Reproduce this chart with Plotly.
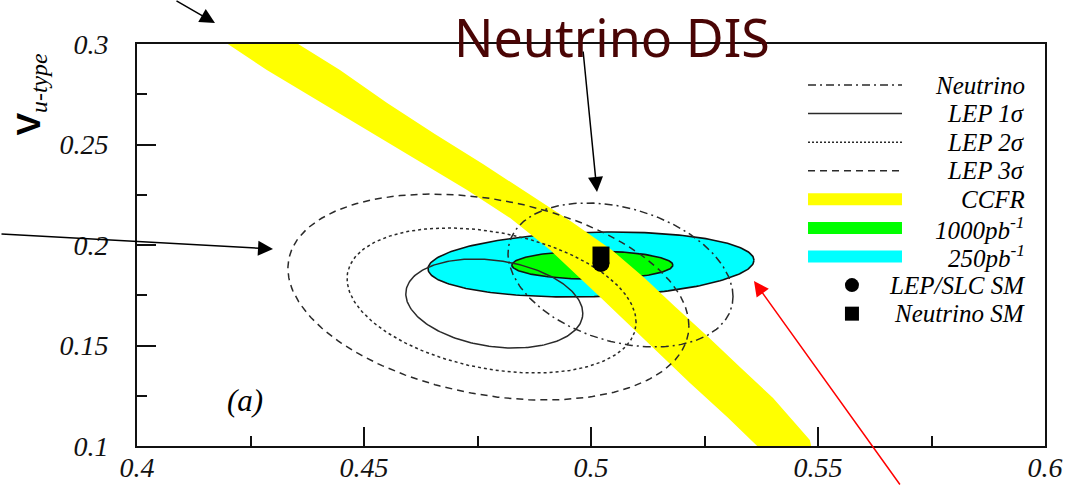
import numpy as np
import plotly.graph_objects as go

# ---- axis ticks -------------------------------------------------------
x_ticks = [0.4, 0.45, 0.5, 0.55, 0.6]
x_tick_labels = ["0.4", "0.45", "0.5", "0.55", "0.6"]
x_minor_ticks = [0.425, 0.475, 0.525, 0.575]
y_ticks = [0.1, 0.15, 0.2, 0.25, 0.3]
y_tick_labels = ["0.1", "0.15", "0.2", "0.25", "0.3"]
y_minor_ticks = [0.125, 0.175, 0.225, 0.275]

# ---- CCFR band: upper/right and lower/left edges ----------------------
ccfr_hi_x = [0.4355, 0.4447, 0.4551, 0.4656, 0.4762, 0.4866, 0.4958,
             0.5046, 0.5118, 0.5186, 0.5256, 0.5328, 0.5401, 0.5482, 0.5485]
ccfr_hi_y = [0.3000, 0.2871, 0.2706, 0.2552, 0.2403, 0.2249, 0.2114,
             0.1975, 0.1836, 0.1691, 0.1547, 0.1393, 0.1239, 0.1030, 0.1000]
ccfr_lo_x = [0.4200, 0.4286, 0.4396, 0.4507, 0.4617, 0.4727, 0.4822,
             0.4910, 0.5020, 0.5108, 0.5218, 0.5300, 0.5366]
ccfr_lo_y = [0.3000, 0.2871, 0.2721, 0.2572, 0.2423, 0.2274, 0.2134,
             0.1975, 0.1741, 0.1552, 0.1313, 0.1144, 0.1000]

# ---- contour ellipses: centre, half-extent in x / y, correlation -----
ell_names = ["250pb-1", "1000pb-1", "LEP 3s", "LEP 2s", "LEP 1s", "Neutrino"]
ell_cx = [0.5000, 0.5003, 0.4774, 0.4781, 0.4787, 0.5065]
ell_cy = [0.1903, 0.1900, 0.1741, 0.1724, 0.1709, 0.1851]
ell_sx = [0.0359, 0.01773, 0.04416, 0.03183, 0.01949, 0.02478]
ell_sy = [0.01617, 0.00697, 0.05124, 0.03607, 0.02214, 0.03582]
ell_rho = [0.13, 0.0, -0.28, -0.30, -0.22, -0.30]

# ---- Standard Model points -------------------------------------------
sm_lep_x, sm_lep_y = [0.5022], [0.1908]
sm_nu_x, sm_nu_y = [0.5022], [0.1950]

# ---- legend entries ----------------------------------------------------
legend_labels = ["Neutrino", "LEP 1σ", "LEP 2σ", "LEP 3σ", "CCFR",
                 "1000pb<sup>-1</sup>", "250pb<sup>-1</sup>",
                 "LEP/SLC SM", "Neutrino SM"]

LINE = "#2a2a2a"
DASHES = {
    "Neutrino": "8px,4px,2px,4px",
    "LEP 1s": "solid",
    "LEP 2s": "3px,3px",
    "LEP 3s": "7px,5px",
}
FILLS = {"250pb-1": "#00ffff", "1000pb-1": "#00ff00"}


def ellipse(cx, cy, sx, sy, rho, n=240):
    t = np.linspace(0, 2 * np.pi, n)
    delta = np.arccos(rho)
    return cx + sx * np.cos(t), cy + sy * np.cos(t - delta)


fig = go.Figure()

# filled luminosity contours
for i in range(2):
    ex, ey = ellipse(ell_cx[i], ell_cy[i], ell_sx[i], ell_sy[i], ell_rho[i])
    fig.add_trace(go.Scatter(x=ex, y=ey, mode="lines", fill="toself",
                             fillcolor=FILLS[ell_names[i]],
                             line=dict(color="#111", width=1.6),
                             hoverinfo="skip"))

# CCFR band
band_x = ccfr_hi_x + ccfr_lo_x[::-1]
band_y = ccfr_hi_y + ccfr_lo_y[::-1]
fig.add_trace(go.Scatter(x=band_x, y=band_y, mode="lines", fill="toself",
                         fillcolor="#ffff00", line=dict(width=0),
                         hoverinfo="skip"))

# LEP and neutrino contours
for i in range(2, 6):
    ex, ey = ellipse(ell_cx[i], ell_cy[i], ell_sx[i], ell_sy[i], ell_rho[i])
    fig.add_trace(go.Scatter(x=ex, y=ey, mode="lines",
                             line=dict(color=LINE, width=1.5,
                                       dash=DASHES[ell_names[i]]),
                             hoverinfo="skip"))

# SM points
fig.add_trace(go.Scatter(x=sm_lep_x, y=sm_lep_y, mode="markers",
                         marker=dict(symbol="circle", size=17, color="black")))
fig.add_trace(go.Scatter(x=sm_nu_x, y=sm_nu_y, mode="markers",
                         marker=dict(symbol="square", size=17, color="black")))

# ---- hand-built legend in paper coordinates ---------------------------
leg_x0, leg_x1, leg_text_x, leg_mark_x = 0.739, 0.8425, 0.9802, 0.7874
leg_top, leg_step = 0.898, 0.0711
sample_styles = [
    dict(kind="line", dash=DASHES["Neutrino"]),
    dict(kind="line", dash="solid"),
    dict(kind="line", dash="2px,2px"),
    dict(kind="line", dash=DASHES["LEP 3s"]),
    dict(kind="band", color="#ffff00"),
    dict(kind="band", color="#00ff00"),
    dict(kind="band", color="#00ffff"),
    dict(kind="circle"),
    dict(kind="square"),
]
shapes = []
annotations = []
for k, (label, st) in enumerate(zip(legend_labels, sample_styles)):
    yy = leg_top - k * leg_step
    if st["kind"] == "line":
        shapes.append(dict(type="line", xref="paper", yref="paper",
                           x0=leg_x0, x1=leg_x1, y0=yy, y1=yy,
                           line=dict(color=LINE, width=1.5, dash=st["dash"])))
    elif st["kind"] == "band":
        shapes.append(dict(type="line", xref="paper", yref="paper",
                           x0=leg_x0, x1=leg_x1, y0=yy, y1=yy,
                           line=dict(color=st["color"], width=12)))
    else:
        shapes.append(dict(type="circle" if st["kind"] == "circle" else "rect",
                           xref="paper", yref="paper",
                           xsizemode="pixel", ysizemode="pixel",
                           xanchor=leg_mark_x, yanchor=yy,
                           x0=-7, x1=7, y0=-7, y1=7,
                           fillcolor="black", line=dict(width=0)))
    annotations.append(dict(xref="paper", yref="paper", x=leg_text_x, y=yy,
                            xanchor="right", yanchor="middle", showarrow=False,
                            text=label,
                            font=dict(family="Liberation Serif", size=25,
                                      style="italic", color="black")))

# panel tag and axis title
annotations.append(dict(xref="paper", yref="paper", x=0.119, y=0.112,
                        xanchor="center", yanchor="middle",
                        text="(a)", showarrow=False,
                        font=dict(family="Liberation Serif", size=31,
                                  style="italic", color="black")))
annotations.append(dict(xref="paper", yref="paper", x=-0.117, y=0.876,
                        xanchor="center", yanchor="middle",
                        textangle=-90, showarrow=False,
                        text="<b>V</b><sub><span style=\"font-family:Liberation Serif;"
                             "font-style:italic;font-weight:normal\">u-type</span></sub>",
                        font=dict(family="Liberation Sans", size=34, color="black")))

# heading
annotations.append(dict(xref="paper", yref="paper", x=0.523, y=1.0199,
                        xanchor="center", yanchor="middle",
                        text="Neutrino DIS", showarrow=False,
                        font=dict(family="Noto Sans", size=52, color="#4a0505")))

# pointer arrows
arrows = [
    dict(x=0.0859, y=1.0522, ax=-40, ay=-26, color="black"),
    dict(x=0.1498, y=0.4900, ax=-276, ay=-15, color="black"),
    dict(x=0.5066, y=0.6318, ax=-14, ay=-142, color="black"),
    dict(x=0.6795, y=0.4104, ax=147, ay=210, color="#ff0000"),
]
for a in arrows:
    annotations.append(dict(xref="paper", yref="paper", x=a["x"], y=a["y"],
                            ax=a["ax"], ay=a["ay"], text="", showarrow=True,
                            arrowhead=2, arrowsize=2, arrowwidth=1.5,
                            arrowcolor=a["color"]))

tick_font = dict(family="Liberation Serif", size=28, style="italic", color="#111")
axis_common = dict(ticks="inside", ticklen=19, tickwidth=1.5, tickcolor="#111",
                   showline=True, linecolor="#111", linewidth=1.8, mirror=True,
                   showgrid=False, zeroline=False, tickfont=tick_font,
                   automargin=False)

fig.update_layout(
    width=1068, height=486,
    margin=dict(l=137, r=23, t=44, b=40),
    paper_bgcolor="white", plot_bgcolor="white",
    showlegend=False,
    xaxis=dict(range=[0.4, 0.6], tickvals=x_ticks, ticktext=x_tick_labels,
               minor=dict(tickvals=x_minor_ticks, ticks="inside", ticklen=10,
                          tickwidth=1.5, tickcolor="#111", showgrid=False),
               ticklabelstandoff=-5, **axis_common),
    yaxis=dict(range=[0.1, 0.3], tickvals=y_ticks, ticktext=y_tick_labels,
               minor=dict(tickvals=y_minor_ticks, ticks="inside", ticklen=10,
                          tickwidth=1.5, tickcolor="#111", showgrid=False),
               ticklabelstandoff=21, **axis_common),
    shapes=shapes,
    annotations=annotations,
)

fig.write_html("out.html")
